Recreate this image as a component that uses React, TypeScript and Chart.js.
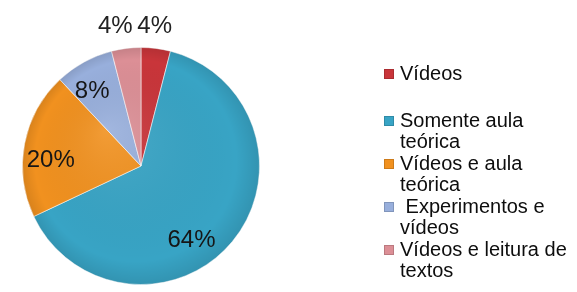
import React, { useEffect, useRef } from "react";
import { Chart, registerables } from "chart.js";

Chart.register(...registerables);

const categories: string[][] = [
  ["Vídeos"],
  ["Somente aula", "teórica"],
  ["Vídeos e aula", "teórica"],
  [" Experimentos e", "vídeos"],
  ["Vídeos e leitura de", "textos"],
];
const values: number[] = [4, 64, 20, 8, 4];
const percentLabels: string[] = ["4%", "64%", "20%", "8%", "4%"];
const colors: string[] = ["#c9353a", "#38a4c5", "#f1911f", "#98afdc", "#dc8f96"];

const shadePlugin = {
  id: "pieShade",
  afterDatasetsDraw(chart: any) {
    const ctx = chart.ctx;
    const arc = chart.getDatasetMeta(0).data[0];
    if (!arc) return;
    const p = arc.getProps(["x", "y", "outerRadius"], true);
    ctx.save();
    const g = ctx.createRadialGradient(p.x - p.outerRadius * 0.3, p.y - p.outerRadius * 0.3, 0, p.x, p.y, p.outerRadius);
    g.addColorStop(0, "rgba(255,255,255,0.10)");
    g.addColorStop(0.85, "rgba(0,0,0,0.0)");
    g.addColorStop(1, "rgba(0,0,0,0.10)");
    ctx.fillStyle = g;
    ctx.beginPath();
    ctx.arc(p.x, p.y, p.outerRadius, 0, Math.PI * 2);
    ctx.fill();
    ctx.restore();
  },
};

const labelPlugin = {
  id: "sliceLabels",
  afterDatasetsDraw(chart: any, _args: any, opts: any) {
    const ctx = chart.ctx;
    const meta = chart.getDatasetMeta(0);
    ctx.save();
    ctx.font = "24px 'Liberation Sans', Arial, sans-serif";
    ctx.textAlign = "center";
    ctx.textBaseline = "middle";
    meta.data.forEach((arc: any, i: number) => {
      const p = arc.getProps(["x", "y", "startAngle", "endAngle", "outerRadius"], true);
      const mid = (p.startAngle + p.endAngle) / 2;
      const rf = opts.radius[i];
      const off = opts.offsets[i];
      const x = p.x + Math.cos(mid) * p.outerRadius * rf + off[0];
      const y = p.y + Math.sin(mid) * p.outerRadius * rf + off[1];
      ctx.fillStyle = rf > 1 ? "#222222" : "#161616";
      ctx.fillText(percentLabels[i], x, y);
    });
    ctx.restore();
  },
};

const legendPlugin = {
  id: "sideLegend",
  afterDraw(chart: any, _args: any, opts: any) {
    const ctx = chart.ctx;
    ctx.save();
    ctx.font = "20px 'Liberation Sans', Arial, sans-serif";
    ctx.textAlign = "left";
    ctx.textBaseline = "middle";
    let y = opts.top;
    categories.forEach((lines, i) => {
      ctx.fillStyle = colors[i];
      ctx.fillRect(opts.x, y - 5, 10, 10);
      ctx.strokeStyle = "rgba(0,0,0,0.15)";
      ctx.lineWidth = 1;
      ctx.strokeRect(opts.x + 0.5, y - 4.5, 9, 9);
      ctx.fillStyle = "#0d0d0d";
      lines.forEach((t, j) => {
        ctx.fillText(t, opts.x + 16, y + j * opts.lineHeight);
      });
      y += (i === 0 ? opts.firstGap : 2 * opts.lineHeight);
    });
    ctx.restore();
  },
};

export default function App() {
  const ref = useRef<HTMLCanvasElement>(null);
  useEffect(() => {
    document.body.style.margin = "0";
    const chart = new Chart(ref.current!, {
      type: "pie",
      data: {
        labels: categories.map((l) => l.join(" ")),
        datasets: [
          {
            data: values,
            backgroundColor: colors,
            borderColor: "rgba(255,255,255,0.55)",
            borderWidth: 1,
          },
        ],
      },
      options: {
        responsive: false,
        animation: false,
        layout: { padding: { left: 22, top: 47, right: 317, bottom: 7 } },
        plugins: {
          legend: { display: false },
          tooltip: { enabled: false },
          sliceLabels: {
            radius: [1.19, 0.75, 0.75, 0.75, 1.19],
            offsets: [[-4, 0], [-18, 18], [-3, 11], [-6, 3], [-8, 0]],
          },
          sideLegend: { x: 384, top: 74, lineHeight: 21.5, firstGap: 47 },
        } as any,
      },
      plugins: [shadePlugin, labelPlugin, legendPlugin],
    });
    return () => chart.destroy();
  }, []);
  return <canvas ref={ref} width={577} height={292} style={{ display: "block" }} />;
}
